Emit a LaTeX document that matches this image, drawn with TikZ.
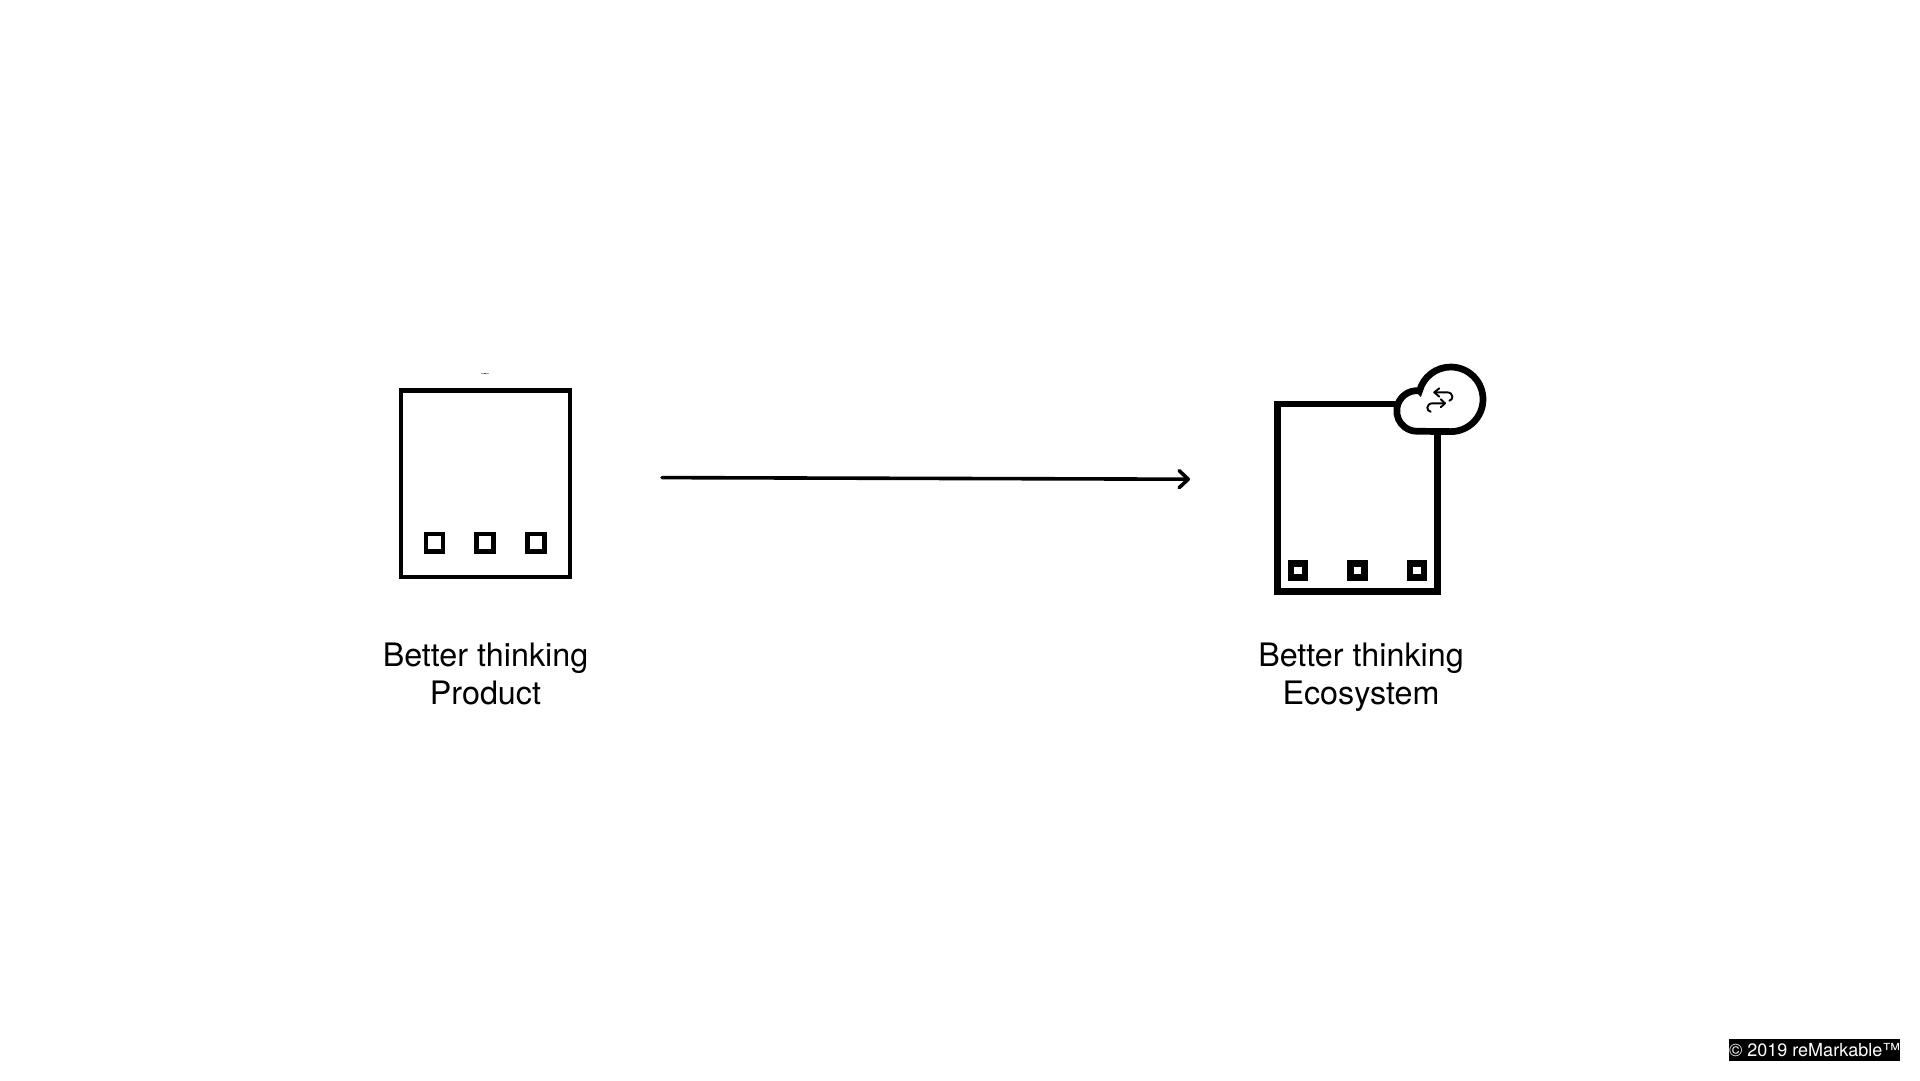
\documentclass[tikz,border=0pt]{standalone}
\usepackage{fontspec}
\setmainfont{TeX Gyre Heros}
\usetikzlibrary{arrows.meta}
\tikzset{
  x=1pt,y=1pt,
  device/.style={draw=black,fill=white,inner sep=0pt,outer sep=0pt,line join=miter},
  thinbox/.style={device,line width=4.4pt,minimum width=169pt,minimum height=186.4pt},
  thickbox/.style={device,line width=6.7pt,minimum width=160.3pt,minimum height=187.6pt},
  thinkey/.style={device,line width=4.4pt,minimum width=17.2pt,minimum height=17.2pt},
  thickkey/.style={device,line width=6.7pt,minimum width=14pt,minimum height=14pt},
  caption/.style={align=center,inner sep=0pt,font=\fontsize{32.3}{37.6}\selectfont,text=black},
  flow/.style={line width=3.6pt,line cap=round,-{Straight Barb[length=9pt,width=17pt,line width=3.6pt,round]}},
  cloudline/.style={draw=black,fill=white,line width=6.7pt,line join=miter},
  syncline/.style={draw=black,line width=1.9pt,line cap=round,line join=round},
  stamp/.style={fill=black,text=white,inner sep=0pt,minimum width=171.3pt,minimum height=21.7pt,font=\fontsize{18}{20}\selectfont}
}
\begin{document}
\begin{tikzpicture}
\useasboundingbox (0,-1080) rectangle (1920,0);
\fill[white] (0,-1080) rectangle (1920,0);

% left product
\node[thinbox] (prod) at (485.5,-483.5) {};
\node[thinkey] (pk1) at (434.4,-542.7) {};
\node[thinkey] (pk2) at (485.0,-542.7) {};
\node[thinkey] (pk3) at (536.0,-542.7) {};
\draw[gray!70,line width=0.7pt] (481,-373.7) -- (489.3,-373.7);
\draw[black!70,line width=0.9pt] (484.3,-373.9) -- (486.2,-373.9);

% right ecosystem
\node[thickbox] (eco) at (1357.35,-497.7) {};
\node[thickkey] (ek1) at (1298,-570.7) {};
\node[thickkey] (ek2) at (1357.7,-570.7) {};
\node[thickkey] (ek3) at (1417,-570.7) {};

% cloud
\path[cloudline] (1450.7,-431.6)
  arc[start angle=-90,end angle=164.8,radius=32.3pt]
  -- (1419.5,-390.8)
  arc[start angle=83,end angle=270,radius=20.3pt]
  -- cycle;
\draw[syncline] (1439.3,-388.3) -- (1434.3,-392.3) -- (1439.3,-396.7);
\draw[syncline] (1434.3,-392.3) -- (1446.7,-392.3)
  .. controls (1450.5,-392.3) and (1452.4,-394.3) .. (1452.4,-396.7)
  .. controls (1452.4,-398.8) and (1451.3,-400.2) .. (1449.3,-400.7);
\draw[syncline] (1440.7,-399.3) -- (1445,-403.3) -- (1440.7,-407.3);
\draw[syncline] (1445,-403.3) -- (1432.7,-403.3)
  .. controls (1429.3,-403.3) and (1427.3,-405.3) .. (1427.3,-407.7)
  .. controls (1427.3,-409.8) and (1428.7,-411.3) .. (1430.7,-411.7);

% connector
\coordinate (flowstart) at (662,-477.6);
\coordinate (flowend) at (1190,-479.2);
\draw[flow] (flowstart) -- (flowend);

% captions
\node[caption,anchor=north] (capa) at (485.5,-643) {Better thinking\\Product};
\node[caption,anchor=north] (capb) at (1361,-643) {Better thinking\\Ecosystem};

% stamp
\node[stamp] (mark) at (1814.7,-1049.9) {© 2019 reMarkable™};
\end{tikzpicture}
\end{document}
